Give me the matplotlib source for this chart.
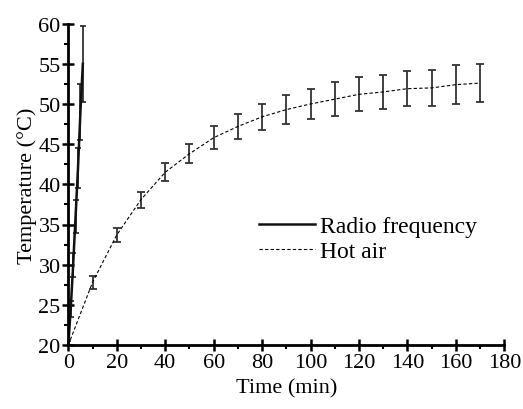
import matplotlib
matplotlib.use("Agg")
import matplotlib.pyplot as plt
from matplotlib.lines import Line2D
from matplotlib.ticker import MultipleLocator

# Radio frequency heating
rf_time = [0, 1, 2, 3, 4, 5, 6]
rf_temp = [20, 24.5, 30, 36, 42, 49, 55]
rf_err = [0.5, 1.0, 1.5, 2.0, 2.5, 3.5, 4.7]

# Hot air heating
air_time = [0, 10, 20, 30, 40, 50, 60, 70, 80, 90, 100, 110, 120, 130,
            140, 150, 160, 170]
air_temp = [20, 27.8, 33.7, 38.1, 41.5, 43.8, 45.8, 47.2, 48.4, 49.3,
            50.0, 50.6, 51.2, 51.5, 51.9, 52.0, 52.4, 52.6]
air_err = [0, 0.8, 0.9, 1.0, 1.1, 1.2, 1.4, 1.5, 1.6, 1.8, 1.9, 2.1,
           2.1, 2.1, 2.2, 2.2, 2.4, 2.4]

AIR_DASH = (0, (3, 2))


def main():
    plt.rcParams['font.family'] = ['Liberation Serif', 'DejaVu Serif']
    fig = plt.figure(figsize=(5.23, 4.10), dpi=100)
    ax = fig.add_axes([0.1306, 0.156, 0.8337, 0.784])

    ax.errorbar(air_time, air_temp, yerr=air_err, color='black',
                linestyle=AIR_DASH, linewidth=0.8, ecolor='#333333',
                elinewidth=1.3, capsize=3, capthick=1.3)
    ax.errorbar(rf_time, rf_temp, yerr=rf_err, color='#111111',
                linewidth=1.8, ecolor='#222222', elinewidth=1.2,
                capsize=2.5, capthick=1.2)

    ax.set_xlim(0, 180)
    ax.set_ylim(20, 60)
    ax.xaxis.set_major_locator(MultipleLocator(20))
    ax.xaxis.set_minor_locator(MultipleLocator(10))
    ax.yaxis.set_major_locator(MultipleLocator(5))
    ax.yaxis.set_minor_locator(MultipleLocator(2.5))

    for side in ('top', 'right'):
        ax.spines[side].set_visible(False)
    for side in ('left', 'bottom'):
        ax.spines[side].set_linewidth(2)
    ax.tick_params(which='major', direction='inout', length=9, width=1.8,
                   labelsize=16, pad=1)
    ax.tick_params(which='minor', direction='out', length=3, width=1.5)

    ax.set_xlabel("Time (min)", fontsize=16, labelpad=5)
    ax.set_ylabel("Temperature (°C)", fontsize=16, labelpad=1)

    handles = [Line2D([], [], color='#111111', linewidth=1.8),
               Line2D([], [], color='black', linewidth=0.8,
                      linestyle=AIR_DASH)]
    ax.legend(handles, ['Radio frequency', 'Hot air'], loc='center left',
              bbox_to_anchor=(0.388, 0.33), frameon=False, fontsize=17,
              handlelength=2.4, handletextpad=0.2, labelspacing=0.15)

    fig.savefig("out.png", dpi=100)


if __name__ == "__main__":
    main()
